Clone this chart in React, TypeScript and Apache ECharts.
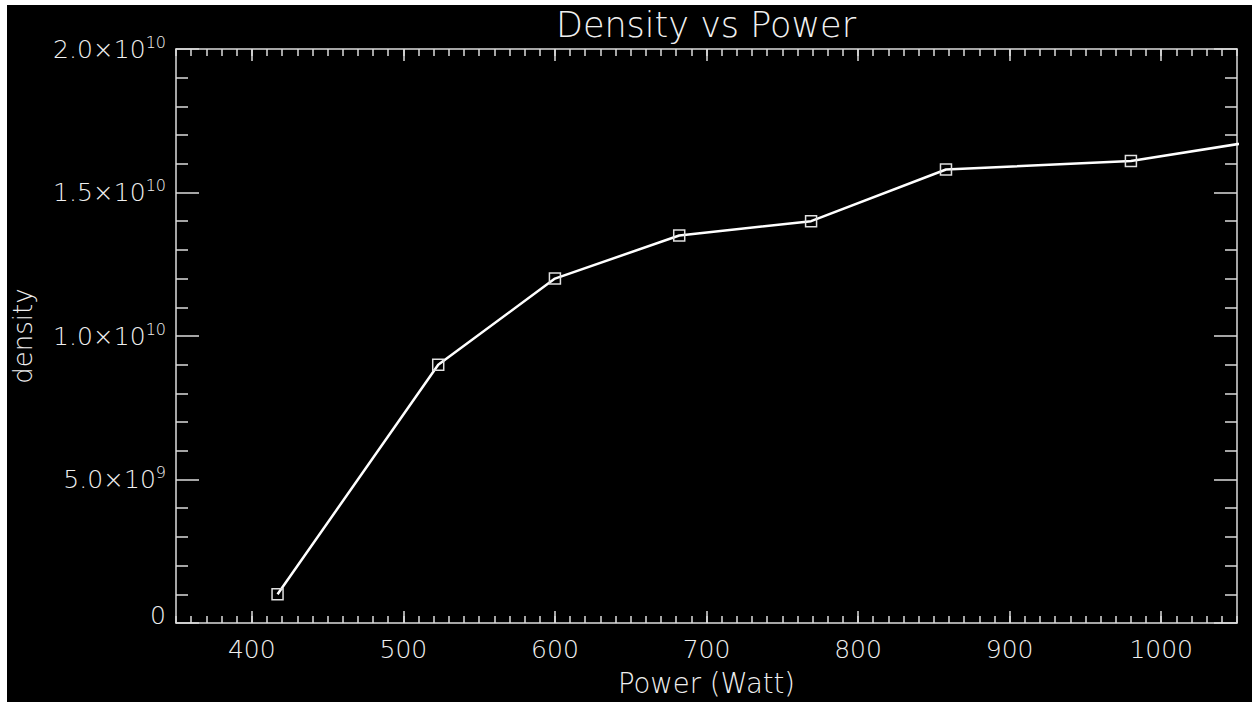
import React, { useEffect, useRef } from "react";
import * as echarts from "echarts";

// Measured plasma density against input power
const power = [417, 523, 600, 682, 769, 858, 980, 1100];
const density = [1.0e9, 9.0e9, 1.2e10, 1.35e10, 1.4e10, 1.58e10, 1.61e10, 1.71e10];

// Tick positions
const powerTicks = [400, 500, 600, 700, 800, 900, 1000];
const powerMin = 350;
const powerMax = 1050;
const densityMin = 0;
const densityMax = 2e10;
const densityStep = 5e9;

const FONT = "DejaVu Sans";
const WEIGHT = 200;
const AXIS = "#dcdcdc";
const TEXT = "#f0f0f0";

function sciLabel(v: number): string {
  if (v === 0) return "{z|0}";
  const exp = Math.floor(Math.log10(v) + 1e-9);
  const mant = v / Math.pow(10, exp);
  return `{m|${mant.toFixed(1)}×10}{s|${exp}}`;
}

export default function App() {
  const ref = useRef<HTMLDivElement>(null);

  useEffect(() => {
    if (!ref.current) return;
    const chart = echarts.init(ref.current, undefined, { renderer: "svg" });

    const lineStyle = { color: AXIS, width: 1.5 };
    const textBase = { color: TEXT, fontFamily: FONT, fontWeight: WEIGHT };
    const xBase = {
      type: "value" as const,
      min: powerMin,
      max: powerMax,
      splitLine: { show: false },
      minorSplitLine: { show: false },
    };
    const yBase = {
      type: "value" as const,
      min: densityMin,
      max: densityMax,
      interval: densityStep,
      splitLine: { show: false },
      minorSplitLine: { show: false },
      axisLine: { show: true, onZero: false, lineStyle },
      axisTick: { show: true, inside: true, length: 23, lineStyle },
      minorTick: { show: true, splitNumber: 5, length: 12, lineStyle },
    };

    chart.setOption({
      animation: false,
      backgroundColor: "#000000",
      title: {
        text: "Density vs Power",
        left: 699,
        top: 2,
        padding: 0,
        textAlign: "center",
        textStyle: { ...textBase, fontSize: 35 },
      },
      grid: {
        left: 169,
        right: 15,
        top: 44,
        bottom: 79,
        containLabel: false,
        outerBoundsMode: "none",
      },
      xAxis: [
        {
          ...xBase,
          position: "bottom",
          axisLine: { show: true, onZero: false, lineStyle },
          axisTick: { show: true, inside: true, length: 12, customValues: powerTicks, lineStyle },
          axisLabel: {
            customValues: powerTicks,
            formatter: (v: number) => String(v),
            ...textBase,
            fontSize: 25,
            margin: 14,
          },
          name: "Power (Watt)",
          nameLocation: "middle",
          nameGap: 46,
          nameTextStyle: { ...textBase, fontSize: 27.5 },
        },
        {
          ...xBase,
          position: "bottom",
          interval: 10,
          axisLine: { show: false, onZero: false },
          axisTick: { show: true, inside: true, length: 7, lineStyle },
          axisLabel: { show: false },
        },
        {
          ...xBase,
          position: "top",
          axisLine: { show: true, onZero: false, lineStyle },
          axisTick: { show: true, inside: true, length: 12, customValues: powerTicks, lineStyle },
          axisLabel: { show: false },
        },
        {
          ...xBase,
          position: "top",
          interval: 10,
          axisLine: { show: false, onZero: false },
          axisTick: { show: true, inside: true, length: 7, lineStyle },
          axisLabel: { show: false },
        },
      ],
      yAxis: [
        {
          ...yBase,
          position: "left",
          axisLabel: {
            formatter: sciLabel,
            margin: 10,
            ...textBase,
            rich: {
              m: { ...textBase, fontSize: 25, lineHeight: 30 },
              s: { ...textBase, fontSize: 16, lineHeight: 17, verticalAlign: "top" },
              z: { ...textBase, fontSize: 25, lineHeight: 30, padding: [0, 0, 16, 0] },
            },
          },
          name: "density",
          nameLocation: "middle",
          nameGap: 140,
          nameTextStyle: { ...textBase, fontSize: 26 },
        },
        {
          ...yBase,
          position: "right",
          axisLabel: { show: false },
        },
      ],
      series: [
        {
          type: "line",
          xAxisIndex: 0,
          yAxisIndex: 0,
          data: power.map((p, i) => [p, density[i]]),
          symbol: "rect",
          symbolSize: 11,
          showAllSymbol: true,
          clip: true,
          silent: true,
          lineStyle: { color: "#ffffff", width: 2.5 },
          itemStyle: { color: "rgba(0,0,0,0)", borderColor: "#e0e0e0", borderWidth: 1.5 },
          emphasis: { disabled: true },
        },
      ],
    });

    return () => chart.dispose();
  }, []);

  return (
    <div style={{ position: "absolute", left: 0, top: 0, width: 1252, height: 702, background: "#ffffff" }}>
      <div
        ref={ref}
        style={{ position: "absolute", left: 7, top: 5, width: 1245, height: 697, background: "#000000" }}
      />
    </div>
  );
}
